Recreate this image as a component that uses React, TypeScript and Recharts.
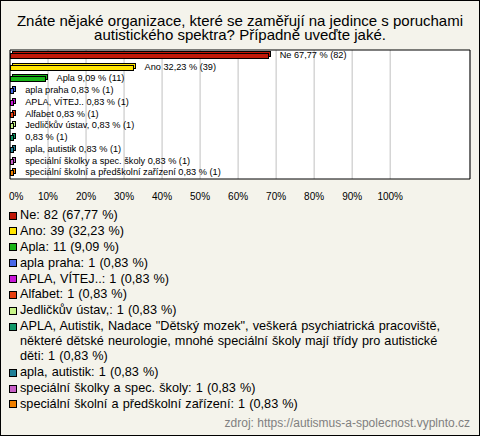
import React from 'react';
import { BarChart, Bar, XAxis, YAxis, CartesianGrid, ReferenceArea, LabelList, Cell } from 'recharts';

const titleLines = [
  'Znáte nějaké organizace, které se zaměřují na jedince s poruchami',
  'autistického spektra? Případně uveďte jaké.',
];

// answers as listed in the legend
const names = [
  'Ne',
  'Ano',
  'Apla',
  'apla praha',
  'APLA, VÍTEJ..',
  'Alfabet',
  'Jedličkův ústav,',
  'APLA, Autistik, Nadace "Dětský mozek", veškerá psychiatrická pracoviště, některé dětské neurologie, mnohé speciální školy mají třídy pro autistické děti',
  'apla, autistik',
  'speciální školky a spec. školy',
  'speciální školní a předškolní zařízení',
];
// names as printed next to the bars (long one is cut to nothing)
const barNames = [
  'Ne', 'Ano', 'Apla', 'apla praha', 'APLA, VÍTEJ..', 'Alfabet', 'Jedličkův ústav,', '',
  'apla, autistik', 'speciální školky a spec. školy', 'speciální školní a předškolní zařízení',
];
const counts = [82, 39, 11, 1, 1, 1, 1, 1, 1, 1, 1];
const percents = [67.77, 32.23, 9.09, 0.83, 0.83, 0.83, 0.83, 0.83, 0.83, 0.83, 0.83];
const colors = [
  '#c01808', '#ffe400', '#18b418', '#4868e8', '#c818d8', '#e84010',
  '#c8f488', '#109868', '#208098', '#c860c8', '#f08000',
];
const xTicks = [0, 10, 20, 30, 40, 50, 60, 70, 80, 90, 100];

const fmt = (v: number) => v.toFixed(2).replace('.', ',');

const data = names.map((n, i) => ({
  name: n,
  value: percents[i],
  text: (barNames[i] ? barNames[i] + ' ' : '') + fmt(percents[i]) + ' % (' + counts[i] + ')',
}));

const font = '"Liberation Sans", Arial, sans-serif';

const Bar3D = (props: any) => {
  const { x, y, width, height, fill } = props;
  const bx = Math.round(x) + 0.5;
  const by = Math.round(y) + 0.5;
  const w = Math.max(Math.round(width), 2);
  const h = Math.round(height);
  const d = 2;
  return (
    <g>
      <rect x={bx + d} y={by - d} width={w} height={h} fill={fill} stroke="#000" strokeWidth={1} />
      <rect x={bx} y={by} width={w} height={h} fill={fill} stroke="#000" strokeWidth={1} />
    </g>
  );
};

const BarText = (props: any) => {
  const { x, y, width, height, value } = props;
  return (
    <text x={x + Math.max(width, 2) + 12} y={y + height / 2 - 0.5} fontSize={9.2} fontFamily={font}
      fill="#000" dominantBaseline="central">{value}</text>
  );
};

const Tick = (props: any) => {
  const { x, y, payload } = props;
  const zero = payload.value === 0;
  return (
    <text x={zero ? x - 1 : x} y={y + 9} textAnchor={zero ? 'start' : 'middle'} fontSize={10}
      fontFamily={font} fill="#000" dominantBaseline="central">{payload.value + '%'}</text>
  );
};

export default function App() {
  return (
    <div style={{ position: 'absolute', left: 0, top: 0, width: 480, height: 436, background: '#f4f3eb',
      boxShadow: 'inset 0 0 0 1px #000', fontFamily: font, overflow: 'hidden' }}>
      {titleLines.map((t, i) => (
        <div key={i} style={{ position: 'absolute', top: 14 + i * 14, left: 0, width: 480, height: 14,
          textAlign: 'center', fontSize: 15, lineHeight: '14px', color: '#000', whiteSpace: 'nowrap' }}>{t}</div>
      ))}
      <div style={{ position: 'absolute', left: 0, top: 0 }}>
        <BarChart width={480} height={215} data={data} layout="vertical"
          margin={{ top: 50, right: 10, left: 10, bottom: 10 }} barSize={5}>
          <CartesianGrid horizontal={false} stroke="#c0c0c0" fill="#fff" />
          <XAxis type="number" domain={[0, 121]} ticks={xTicks} axisLine={false} tickLine={false}
            height={26} tick={<Tick />} interval={0} />
          <YAxis type="category" dataKey="name" hide width={0} />
          <ReferenceArea x1={0} x2={121} stroke="#000" strokeWidth={1} fill="none" ifOverflow="visible" />
          <Bar dataKey="value" isAnimationActive={false} shape={<Bar3D />}>
            {data.map((d, i) => <Cell key={i} fill={colors[i]} />)}
            <LabelList dataKey="text" content={<BarText />} />
          </Bar>
        </BarChart>
      </div>
      <div style={{ position: 'absolute', top: 208, left: 9, width: 452, fontSize: 12.7, lineHeight: '15px',
        color: '#000', wordSpacing: 0.6 }}>
        {names.map((n, i) => (
          <div key={i} style={{ display: 'flex', alignItems: 'flex-start', marginBottom: 0.9 }}>
            <div style={{ width: 6, height: 6, border: '1px solid #000', background: colors[i], marginTop: 3.5,
              marginRight: 3, flexShrink: 0 }} />
            <div>{n + ': ' + counts[i] + ' (' + fmt(percents[i]) + ' %)'}</div>
          </div>
        ))}
      </div>
      <div style={{ position: 'absolute', right: 10, top: 416, fontSize: 12, lineHeight: '15px', color: '#808080' }}>
        zdroj: https://autismus-a-spolecnost.vyplnto.cz
      </div>
    </div>
  );
}
